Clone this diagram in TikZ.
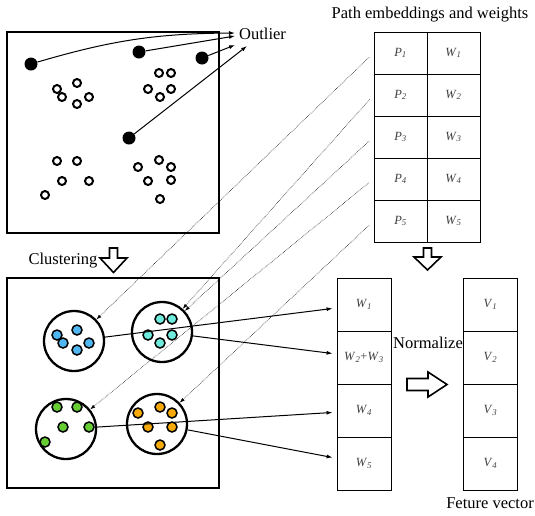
\documentclass[tikz,border=0pt]{standalone}
\usepackage{fontspec}
\setmainfont{Liberation Serif}
\usetikzlibrary{arrows.meta,calc}
\newcommand{\sv}[2]{\textit{#1}\textsubscript{\textit{#2}}}
\definecolor{cblue}{RGB}{80,182,240}
\definecolor{ccyan}{RGB}{110,235,220}
\definecolor{cgreen}{RGB}{102,204,51}
\definecolor{corange}{RGB}{245,170,10}
\begin{document}
\begin{tikzpicture}[x=1pt,y=-1pt,
  bigbox/.style={draw,line width=2.5pt,inner sep=0},
  outdot/.style={circle,fill=black,inner sep=0,minimum size=13pt},
  opendot/.style={circle,draw,line width=2pt,inner sep=0,minimum size=8pt},
  cdot/.style={circle,draw,line width=1.5pt,inner sep=0,minimum size=10pt,fill=#1},
  clus/.style={circle,draw,line width=2.3pt,inner sep=0,minimum size=60pt},
  cell/.style={draw,line width=0.9pt,inner sep=0,minimum width=53pt,minimum height=42pt,font=\fontsize{12.5}{14}\selectfont,text=black!75},
  vcell/.style={cell,minimum width=54pt,minimum height=53pt},
  lbl/.style={font=\fontsize{16.5}{19}\selectfont,inner sep=0},
  solidarr/.style={-{Latex[length=6pt,width=4pt]},line width=1pt},
  dotarr/.style={densely dotted,line width=0.55pt,-{Latex[length=5pt,width=3.5pt]}},
  hollow/.style={draw,line width=1.6pt,fill=white,line join=miter}
]
\useasboundingbox (0,0) rectangle (535,515);

% boxes
\node[bigbox,minimum width=212pt,minimum height=201pt] (topbox) at (113,132.5) {};
\node[bigbox,minimum width=212pt,minimum height=210pt] (botbox) at (113,383) {};

% outliers
\node[outdot] (d1) at (31,64) {};
\node[outdot] (d2) at (139,52) {};
\node[outdot] (d3) at (202,58) {};
\node[outdot] (d4) at (129,138) {};
\node[lbl,anchor=west] (outl) at (239,34) {Outlier};
\coordinate (t1) at (235,33);
\coordinate (t2) at (235,36);
\coordinate (t3) at (235,45);
\coordinate (t4) at (247,46);
\draw[solidarr] (d1) to[bend left=8] (t1);
\draw[solidarr] (d2) -- (t2);
\draw[solidarr] (d3) -- (t3);
\draw[solidarr] (d4) -- (t4);

% open points
\foreach \x/\y [count=\i] in {57/89,77/83,62/97,89/97,77/104,
  159/73,171/73,148/89,171/89,160/97,
  57/161,77/161,62/181,89/181,45/195,
  159/160,138/167,171/167,148/181,171/180,160/199}
  \node[opendot] (o\i) at (\x,\y) {};

% clustering arrow
\node[lbl] (clt) at (63,261) {Clustering};
\draw[hollow] (109.5,248) -- (117.5,248) -- (117.5,258) -- (127,258) -- (113.5,272.5) -- (100,258) -- (109.5,258) -- cycle;

% clusters
\node[clus] (cb) at (74,341) {};
\node[clus] (cc) at (162,332) {};
\node[clus] (cg) at (66,429) {};
\node[clus] (co) at (157,424) {};
\foreach \x/\y [count=\i] in {57/335,77/330,63/343,89/343,77/350}
  \node[cdot=cblue] (b\i) at (\x,\y) {};
\foreach \x/\y [count=\i] in {160/319,172/319,148/335,172/335,160/343}
  \node[cdot=ccyan] (c\i) at (\x,\y) {};
\foreach \x/\y [count=\i] in {57/407,77/407,63/427,89/427,45/442}
  \node[cdot=cgreen] (g\i) at (\x,\y) {};
\foreach \x/\y [count=\i] in {160/407,138/413,172/413,148/427,172/427,160/445}
  \node[cdot=corange] (r\i) at (\x,\y) {};

% path table
\node[lbl] (ptitle) at (430,15) {Path embeddings and weights};
\foreach \i in {1,...,5} {
  \node[cell] (p\i) at (400.5,11+42*\i) {\sv{P}{\i}};
  \node[cell] (w\i) at (453.5,11+42*\i) {\sv{W}{\i}};
}
\draw[hollow] (423.5,248) -- (431.5,248) -- (431.5,257) -- (441,257) -- (427.5,270) -- (414,257) -- (423.5,257) -- cycle;

% dotted links
\draw[dotarr,shorten <=6pt] (p1.west) -- (cb);
\draw[dotarr,shorten <=6pt] (p2.west) -- (cc);
\draw[dotarr,shorten <=6pt] (p3.west) -- (cc);
\draw[dotarr,shorten <=6pt] (p4.west) -- (cg);
\draw[dotarr,shorten <=6pt] (p5.west) -- (co);

% weight vector
\node[vcell] (s1) at (364,304.5) {\sv{W}{1}};
\node[vcell] (s2) at (364,357.5) {\sv{W}{2}+\sv{W}{3}};
\node[vcell] (s3) at (364,410.5) {\sv{W}{4}};
\node[vcell] (s4) at (364,463.5) {\sv{W}{5}};
\draw[solidarr,shorten >=4pt] (cb) -- (s1);
\draw[solidarr,shorten >=4pt] (cc) -- (s2);
\draw[solidarr,shorten >=4pt] (cg) -- (s3);
\draw[solidarr,shorten >=4pt] (co) -- (s4);

% normalize
\node[lbl] (norm) at (428,343) {Normalize};
\draw[hollow] (407,378.5) -- (428,378.5) -- (428,372) -- (447,384.5) -- (428,397) -- (428,390.5) -- (407,390.5) -- cycle;

% feature vector
\node[vcell] (v1) at (490.5,304.5) {\sv{V}{1}};
\node[vcell] (v2) at (490.5,357.5) {\sv{V}{2}};
\node[vcell] (v3) at (490.5,410.5) {\sv{V}{3}};
\node[vcell] (v4) at (490.5,463.5) {\sv{V}{4}};
\node[lbl] (fv) at (490,503) {Feture vector};
\end{tikzpicture}
\end{document}
